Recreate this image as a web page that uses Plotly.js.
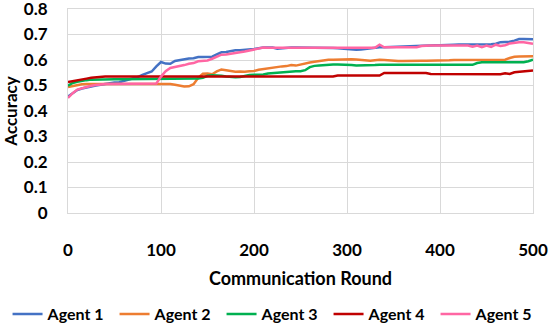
<!DOCTYPE html>
<html>
<head>
<meta charset="utf-8">
<script src="https://cdn.plot.ly/plotly-3.0.1.min.js"></script>
<style>html,body{margin:0;padding:0;background:#fff;}#chart{width:550px;height:330px;}</style>
</head>
<body>
<div id="chart"></div>
<script>
const rounds = [];
for (let r = 0; r <= 500; r += 5) rounds.push(r);

const seriesNames = ["Agent 1", "Agent 2", "Agent 3", "Agent 4", "Agent 5"];
const seriesColors = ["#4472C4", "#ED7D31", "#00B050", "#C00000", "#FF66A3"];

const agent1 = [0.457,0.470,0.482,0.488,0.493,0.497,0.500,0.503,0.507,0.511,
0.512,0.513,0.518,0.524,0.528,0.533,0.542,0.548,0.555,0.575,
0.592,0.586,0.585,0.596,0.600,0.604,0.606,0.607,0.612,0.612,
0.612,0.613,0.622,0.630,0.631,0.634,0.638,0.638,0.639,0.640,
0.643,0.646,0.649,0.649,0.649,0.644,0.646,0.648,0.649,0.649,
0.649,0.649,0.648,0.648,0.648,0.648,0.648,0.647,0.646,0.644,
0.642,0.640,0.640,0.641,0.643,0.647,0.648,0.650,0.650,0.651,
0.651,0.652,0.653,0.653,0.654,0.655,0.657,0.657,0.657,0.658,
0.658,0.658,0.659,0.660,0.661,0.661,0.661,0.661,0.661,0.661,
0.661,0.662,0.664,0.670,0.671,0.672,0.676,0.682,0.682,0.682,0.681];

const agent2 = [0.494,0.498,0.502,0.505,0.506,0.506,0.506,0.506,0.506,0.506,
0.506,0.506,0.506,0.506,0.506,0.506,0.506,0.506,0.506,0.506,
0.506,0.506,0.506,0.503,0.498,0.496,0.497,0.505,0.530,0.546,
0.547,0.544,0.555,0.563,0.560,0.557,0.554,0.555,0.554,0.556,
0.557,0.562,0.565,0.568,0.570,0.572,0.575,0.576,0.580,0.578,
0.582,0.588,0.590,0.593,0.596,0.600,0.601,0.601,0.602,0.603,
0.603,0.603,0.602,0.600,0.597,0.597,0.599,0.601,0.600,0.598,
0.596,0.596,0.596,0.597,0.597,0.597,0.597,0.597,0.597,0.597,
0.598,0.598,0.599,0.600,0.600,0.600,0.600,0.600,0.600,0.600,
0.600,0.600,0.601,0.601,0.601,0.608,0.613,0.614,0.614,0.615,0.615];

const agent3 = [0.499,0.510,0.515,0.519,0.521,0.523,0.524,0.525,0.525,0.525,
0.525,0.525,0.525,0.525,0.525,0.525,0.525,0.525,0.525,0.525,
0.525,0.525,0.525,0.525,0.525,0.525,0.525,0.525,0.527,0.530,
0.538,0.540,0.540,0.538,0.535,0.533,0.532,0.533,0.538,0.541,
0.542,0.542,0.543,0.547,0.549,0.549,0.550,0.552,0.556,0.556,
0.556,0.560,0.572,0.577,0.578,0.580,0.582,0.582,0.582,0.582,
0.582,0.580,0.578,0.578,0.578,0.579,0.580,0.581,0.581,0.581,
0.581,0.581,0.581,0.581,0.581,0.581,0.581,0.581,0.581,0.581,
0.581,0.581,0.581,0.581,0.581,0.581,0.581,0.581,0.588,0.591,
0.591,0.591,0.591,0.591,0.591,0.591,0.591,0.591,0.591,0.595,0.601];

const agent4 = [0.514,0.518,0.521,0.524,0.527,0.530,0.532,0.534,0.535,0.535,
0.535,0.535,0.535,0.535,0.535,0.535,0.535,0.535,0.535,0.535,
0.535,0.535,0.535,0.535,0.535,0.535,0.535,0.535,0.535,0.535,
0.535,0.535,0.535,0.535,0.535,0.535,0.535,0.535,0.535,0.535,
0.535,0.535,0.535,0.535,0.535,0.535,0.535,0.535,0.535,0.535,
0.535,0.535,0.535,0.535,0.535,0.535,0.535,0.535,0.539,0.539,
0.539,0.539,0.539,0.539,0.539,0.539,0.539,0.539,0.549,0.549,
0.549,0.549,0.549,0.549,0.549,0.549,0.549,0.549,0.545,0.545,
0.545,0.545,0.545,0.545,0.545,0.545,0.545,0.545,0.545,0.545,
0.545,0.545,0.545,0.544,0.548,0.545,0.552,0.553,0.555,0.557,0.559];

const agent5 = [0.451,0.470,0.484,0.490,0.495,0.499,0.502,0.505,0.506,0.506,
0.506,0.506,0.506,0.506,0.506,0.506,0.506,0.506,0.506,0.508,
0.535,0.556,0.569,0.572,0.575,0.580,0.585,0.588,0.595,0.597,
0.598,0.605,0.612,0.621,0.622,0.624,0.627,0.630,0.633,0.637,
0.640,0.646,0.649,0.648,0.648,0.648,0.648,0.648,0.648,0.648,
0.648,0.648,0.648,0.648,0.648,0.648,0.648,0.648,0.648,0.648,
0.648,0.648,0.648,0.648,0.648,0.648,0.648,0.660,0.650,0.650,
0.650,0.650,0.650,0.650,0.650,0.650,0.655,0.657,0.657,0.657,
0.657,0.657,0.657,0.657,0.657,0.656,0.657,0.652,0.657,0.650,
0.657,0.651,0.660,0.655,0.658,0.665,0.668,0.670,0.670,0.666,0.664];

const allSeries = [agent1, agent2, agent3, agent4, agent5];

const xTickVals = [0, 100, 200, 300, 400, 500];
const yTickVals = [0, 0.1, 0.2, 0.3, 0.4, 0.5, 0.6, 0.7, 0.8];

const FONT = "Lato, 'Open Sans', sans-serif";

const traces = allSeries.map((ys, i) => ({
  x: rounds, y: ys, type: "scatter", mode: "lines", name: seriesNames[i],
  line: {color: seriesColors[i], width: 2.5}
}));

const layout = {
  width: 550, height: 330,
  margin: {l: 68, r: 17, t: 9, b: 117, autoexpand: false},
  paper_bgcolor: "#fff", plot_bgcolor: "#fff",
  font: {family: FONT, size: 16, color: "#000", weight: "bold"},
  showlegend: true,
  legend: {orientation: "h", x: -0.13, xanchor: "left", y: -0.495, yanchor: "middle",
    entrywidth: 62, entrywidthmode: "pixels",
    font: {family: FONT, size: 16, color: "#000", weight: "bold"}},
  xaxis: {range: [0, 500], tickvals: xTickVals, showgrid: true, gridcolor: "#D9D9D9", gridwidth: 1,
    zeroline: false, showline: true, linecolor: "#D9D9D9", linewidth: 1, mirror: true,
    ticks: "", ticklabelstandoff: 22, ticklabeloverflow: "allow",
    tickfont: {family: FONT, size: 17, color: "#000", weight: "bold"},
    title: {text: "Communication Round", font: {family: FONT, size: 18, color: "#000", weight: "bold"}, standoff: 12}},
  yaxis: {range: [0, 0.8], tickvals: yTickVals, showgrid: true, gridcolor: "#D9D9D9", gridwidth: 1,
    zeroline: false, showline: true, linecolor: "#D9D9D9", linewidth: 1, mirror: true,
    ticks: "", ticklabelstandoff: 16, ticklabeloverflow: "allow",
    tickfont: {family: FONT, size: 17, color: "#000", weight: "bold"},
    title: {text: "Accuracy", font: {family: FONT, size: 17, color: "#000", weight: "bold"}, standoff: 6}}
};

Plotly.newPlot("chart", traces, layout, {displayModeBar: false, staticPlot: true});
</script>
</body>
</html>
